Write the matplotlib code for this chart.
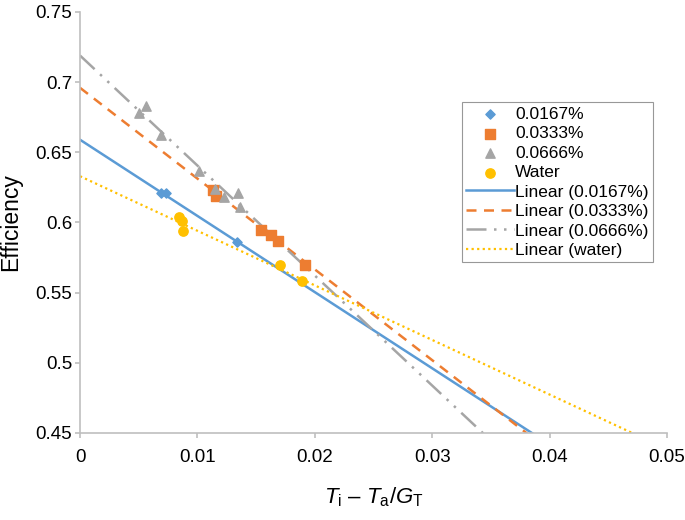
import numpy as np
import matplotlib
matplotlib.use("Agg")
import matplotlib.pyplot as plt

plt.rcParams['font.family'] = ['Liberation Sans', 'DejaVu Sans']
plt.rcParams['mathtext.fontset'] = 'custom'
plt.rcParams['mathtext.rm'] = 'Liberation Sans'
plt.rcParams['mathtext.it'] = 'Liberation Sans:italic'

# data
x_0167 = [0.0069, 0.0073, 0.0134]
y_0167 = [0.621, 0.621, 0.586]
x_0333 = [0.0113, 0.0116, 0.0154, 0.0163, 0.0169, 0.0192]
y_0333 = [0.623, 0.619, 0.595, 0.591, 0.587, 0.570]
x_0666 = [0.0050, 0.0056, 0.0069, 0.0101, 0.0115, 0.0123, 0.0135, 0.0136]
y_0666 = [0.678, 0.683, 0.662, 0.637, 0.624, 0.618, 0.621, 0.611]
x_water = [0.0084, 0.0087, 0.0088, 0.0170, 0.0189]
y_water = [0.604, 0.601, 0.594, 0.570, 0.558]

# trendline coefficients (intercept, slope)
fit_0167 = (0.659, -5.43)
fit_0333 = (0.696, -6.47)
fit_0666 = (0.719, -7.84)
fit_water = (0.633, -3.89)

c_blue = '#5B9BD5'
c_orange = '#ED7D31'
c_gray = '#A5A5A5'
c_yellow = '#FFC000'

fig = plt.figure(figsize=(6.85, 5.2), dpi=100)
ax = fig.add_axes([80/685, 1-433/520, 587/685, 421/520])

ax.scatter(x_0167, y_0167, marker='D', s=22, color=c_blue, label='0.0167%', zorder=3)
ax.scatter(x_0333, y_0333, marker='s', s=45, color=c_orange, label='0.0333%', zorder=3)
ax.scatter(x_0666, y_0666, marker='^', s=45, color=c_gray, label='0.0666%', zorder=3)
ax.scatter(x_water, y_water, marker='o', s=45, color=c_yellow, label='Water', zorder=3)

xx = np.array([0.0, 0.05])
ax.plot(xx, fit_0167[0] + fit_0167[1]*xx, color=c_blue, lw=1.8, label='Linear (0.0167%)')
ax.plot(xx, fit_0333[0] + fit_0333[1]*xx, color=c_orange, lw=1.8, ls=(0, (4, 3)), label='Linear (0.0333%)')
ax.plot(xx, fit_0666[0] + fit_0666[1]*xx, color=c_gray, lw=1.8, ls=(0, (8, 3, 1, 3, 1, 3)), label='Linear (0.0666%)')
ax.plot(xx, fit_water[0] + fit_water[1]*xx, color=c_yellow, lw=1.6, ls=(0, (1, 1.5)), label='Linear (water)')

ax.set_xlim(0, 0.05)
ax.set_ylim(0.45, 0.75)
ax.set_xticks([0, 0.01, 0.02, 0.03, 0.04, 0.05])
ax.set_xticklabels(['0', '0.01', '0.02', '0.03', '0.04', '0.05'])
ax.set_yticks([0.45, 0.5, 0.55, 0.6, 0.65, 0.7, 0.75])
ax.set_yticklabels(['0.45', '0.5', '0.55', '0.6', '0.65', '0.7', '0.75'])
for s in ['top', 'right']:
    ax.spines[s].set_visible(False)
for s in ['left', 'bottom']:
    ax.spines[s].set_color('#BFBFBF')
    ax.spines[s].set_linewidth(1.2)
ax.tick_params(axis='both', colors='#BFBFBF', labelcolor='black', labelsize=13.5, length=3.5, width=1.2)
ax.tick_params(axis='x', pad=8)
ax.tick_params(axis='y', pad=2)

ax.set_ylabel('Efficiency', fontsize=16.5)
ax.yaxis.set_label_coords(-0.099, 0.5)
ax.set_xlabel(r'$T_{\rm i}$ – $T_{\rm a}$/$G_{\rm T}$', fontsize=16, labelpad=14)

leg = ax.legend(loc='upper left', bbox_to_anchor=(0.651, 0.786), fontsize=12.5, frameon=True,
                fancybox=False, edgecolor='#7F7F7F', handlelength=2.75, handletextpad=0.05,
                borderpad=0.25, labelspacing=0.25, borderaxespad=0)
leg.get_frame().set_linewidth(0.8)

fig.savefig('out.png', dpi=100)
